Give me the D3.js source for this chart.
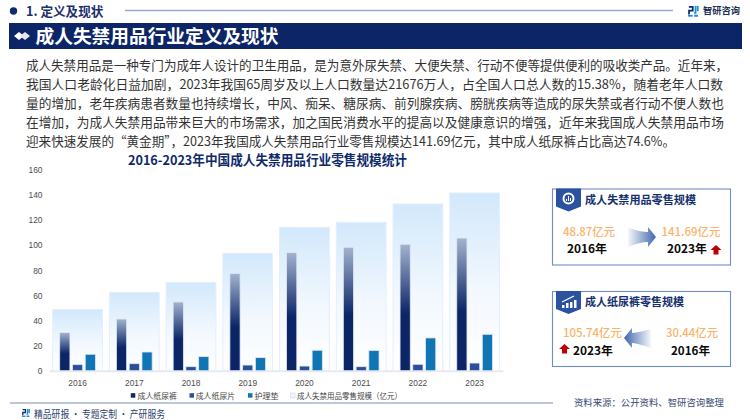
<!DOCTYPE html>
<html lang="zh">
<head>
<meta charset="utf-8">
<script src="https://cdn.jsdelivr.net/npm/d3@7"></script>
<style>
html,body{margin:0;padding:0;background:#fff;}
svg{display:block;font-family:"Noto Sans CJK SC","Noto Sans",sans-serif;}
.tick text{font-family:"Liberation Sans",Arial,sans-serif;font-size:8.4px;fill:#4d4d4d;}
</style>
</head>
<body>
<svg id="c" width="750" height="420" viewBox="0 0 750 420"></svg>
<script>
const years = ["2016","2017","2018","2019","2020","2021","2022","2023"];
const totalScale = [48.87,62.5,70.2,93.6,114.3,118.3,132.9,141.69];
const diapers = [30.44,41.2,54.8,77.6,94.1,98.4,100.8,105.74];
const pads = [4.8,5.6,3.2,4.5,3.7,3.2,5.1,6.1];
const nursing = [13.1,14.9,11.2,10.4,16.3,16.0,26.1,29.0];
const yTicks = [0,20,40,60,80,100,120,140,160];
const legendLabels = ["成人纸尿裤","成人纸尿片","护理垫","成人失禁用品零售规模（亿元）"];
const paragraph = [
 "成人失禁用品是一种专门为成年人设计的卫生用品，是为意外尿失禁、大便失禁、行动不便等提供便利的吸收类产品。近年来，",
 "我国人口老龄化日益加剧，2023年我国65周岁及以上人口数量达21676万人，占全国人口总人数的15.38%，随着老年人口数",
 "量的增加，老年疾病患者数量也持续增长，中风、痴呆、糖尿病、前列腺疾病、膀胱疾病等造成的尿失禁或者行动不便人数也",
 "在增加，为成人失禁用品带来巨大的市场需求，加之国民消费水平的提高以及健康意识的增强，近年来我国成人失禁用品市场",
 "迎来快速发展的“黄金期”，2023年我国成人失禁用品行业零售规模达141.69亿元，其中成人纸尿裤占比高达74.6%。"
];
const paragraphEnds = [728,723,724,724,675];

const svg = d3.select("#c");
const defs = svg.append("defs");
function grad(id, stops){
  const g = defs.append("linearGradient").attr("id",id).attr("x1",0).attr("y1",0).attr("x2",0).attr("y2",1);
  stops.forEach(s=>g.append("stop").attr("offset",s[0]).attr("stop-color",s[1]).attr("stop-opacity",s[2]===undefined?1:s[2]));
}
grad("gTotal",[[0,"#d2e8fb"],[0.55,"#f2f8fe"],[1,"#ffffff"]]);
grad("gDiaper",[[0,"#a3b3cf"],[0.55,"#0b2567"],[1,"#0b2567"]]);
const ga = defs.append("linearGradient").attr("id","gArrowR").attr("x1",0).attr("x2",1).attr("y1",0).attr("y2",0);
ga.append("stop").attr("offset",0).attr("stop-color","#3f66ad").attr("stop-opacity",0.05);
ga.append("stop").attr("offset",1).attr("stop-color","#3f66ad");
const gb = defs.append("linearGradient").attr("id","gArrowL").attr("x1",1).attr("x2",0).attr("y1",0).attr("y2",0);
gb.append("stop").attr("offset",0).attr("stop-color","#3f66ad").attr("stop-opacity",0.05);
gb.append("stop").attr("offset",1).attr("stop-color","#3f66ad");

function txt(x,y,s,size,fill,weight,anchor,len){
  const t = svg.append("text").attr("x",x).attr("y",y).text(s)
    .attr("font-size",size).attr("fill",fill).attr("font-weight",weight||400).attr("text-anchor",anchor||"start");
  if(len) t.attr("textLength",len).attr("lengthAdjust","spacingAndGlyphs");
  return t;
}
function logo(x,y,s){
  const g = svg.append("g").attr("transform",`translate(${x},${y}) scale(${s})`).attr("fill","none").attr("stroke-width",1.7);
  g.append("path").attr("d","M0.8 0.8H4.5V4.5H1V8").attr("stroke","#0f2a6e");
  g.append("path").attr("d","M0 9.3H4.5").attr("stroke","#1d8fd6");
  g.append("path").attr("d","M7.2 0V6.5H5.8M5.8 9.3H9.5M9.3 0V5").attr("stroke","#1d8fd6");
}

// header
svg.append("circle").attr("cx",13.5).attr("cy",11).attr("r",3.7).attr("fill","#12296b");
txt(26,16,"1. 定义及现状",12.6,"#1c2f6b",700);
svg.append("line").attr("x1",125).attr("x2",673).attr("y1",10.5).attr("y2",10.5).attr("stroke","#98a8cc").attr("stroke-width",1.3);
logo(688,6,1.05);
txt(703,14,"智研咨询",9.5,"#1f2f52",700,"start",37);

// banner
svg.append("rect").attr("x",9).attr("y",23).attr("width",733).attr("height",26).attr("fill","#0c2567");
svg.append("path").attr("d","M14 36l5-4 5 4-5 4z").attr("fill","#fff");
svg.append("path").attr("d","M20 36l5-4 5 4-5 4z").attr("fill","#e3e6ee");
txt(35.5,42.5,"成人失禁用品行业定义及现状",18.6,"#fff",700,"start",243);

// paragraph
paragraph.forEach((s,i)=>{
  txt(26,69.5+i*19,s,12.6,"#333",400,"start",paragraphEnds[i]-26);
});

// chart title
txt(128,164.5,"2016-2023年中国成人失禁用品行业零售规模统计",13.4,"#0e2a6b",700,"start",279);

// chart
const x = d3.scaleBand().domain(years).range([49.3,502.9]).paddingInner(0.123).paddingOuter(0.06);
const y = d3.scaleLinear().domain([0,160]).range([370.7,170]);
const inner = d3.scaleBand().domain(["a","b","c"]).range([0,x.bandwidth()]).paddingInner(0.2).paddingOuter(0.55);

const gx = svg.append("g").attr("transform","translate(0,370.7)").call(d3.axisBottom(x).tickSize(0).tickPadding(9));
gx.select(".domain").attr("stroke","#e9e9f1").attr("stroke-width",2);
const gy = svg.append("g").attr("transform","translate(42.5,0)").call(d3.axisLeft(y).tickValues(yTicks).tickSize(0).tickPadding(0));
gy.select(".domain").remove();

svg.append("g").selectAll("rect").data(years).join("rect")
  .attr("x",d=>x(d)).attr("width",x.bandwidth())
  .attr("y",(d,i)=>y(totalScale[i])).attr("height",(d,i)=>y(0)-y(totalScale[i]))
  .attr("fill","url(#gTotal)").attr("stroke","#e4eefc").attr("stroke-width",1);

function series(vals,key,fill){
  svg.append("g").selectAll("rect").data(years).join("rect")
    .attr("x",d=>x(d)+inner(key)).attr("width",inner.bandwidth())
    .attr("y",(d,i)=>y(vals[i])).attr("height",(d,i)=>y(0)-y(vals[i]))
    .attr("fill",fill).attr("stroke","#dfe6f3").attr("stroke-width",0.8);
}
series(diapers,"a","url(#gDiaper)");
series(pads,"b","#2b4f9b");
series(nursing,"c","#0f75b5");

// legend
const legendSwatchX = [130.8,189.5,248,290.5];
const legendTextX = [137.5,195.7,254.5,297];
const legendLen = [39.5,39.5,24,105];
const legendFill = ["#0b2567","#2b4f9b","#0f75b5","#eef5fe"];
legendLabels.forEach((s,i)=>{
  svg.append("rect").attr("x",legendSwatchX[i]).attr("y",393.2).attr("width",4.5).attr("height",4.5)
    .attr("fill",legendFill[i]).attr("stroke",i===3?"#d5e4fb":"none");
  txt(legendTextX[i],398.8,s,8,"#444",400,"start",legendLen[i]);
});

// footer
svg.append("line").attr("x1",10).attr("x2",553).attr("y1",403).attr("y2",403).attr("stroke","#7d8fb8").attr("stroke-width",1);
logo(22,409,0.78);
txt(34,418,"精品研报 · 专题定制 · 产研服务",10,"#2c3f70",400,"start",131);
txt(574,406,"资料来源：公开资料、智研咨询整理",9.4,"#3b4a72",400,"start",150);

// cards
function ribbon(x0,y0,h,icon){
  svg.append("path").attr("d",`M${x0} ${y0}H${x0+25}V${y0+h-5}L${x0+12.5} ${y0+h}L${x0} ${y0+h-5}Z`).attr("fill","#2a52a0");
  if(icon==="donut"){
    svg.append("circle").attr("cx",x0+12.5).attr("cy",y0+10).attr("r",5).attr("fill","none").attr("stroke","#fff").attr("stroke-width",2);
    svg.append("path").attr("d",`M${x0+10} ${y0+12.5}v-2h1v2zM${x0+12} ${y0+12.5}v-5h1v5zM${x0+14} ${y0+12.5}v-3h1v3z`).attr("fill","#fff");
  } else {
    svg.append("path").attr("d",`M${x0+6} ${y0+17}v-3h2.5v3zM${x0+10} ${y0+17}v-5h2.5v5zM${x0+14} ${y0+17}v-6h2.5v6zM${x0+18} ${y0+17}v-8h2.5v8z`).attr("fill","#fff");
    svg.append("path").attr("d",`M${x0+6} ${y0+11}L${x0+12} ${y0+8}L${x0+18} ${y0+5}`).attr("stroke","#fff").attr("stroke-width",1.3).attr("fill","none");
  }
}
function upArrow(cx,top){
  svg.append("path").attr("d",`M${cx} ${top}l5.5 5h-3v4.5h-5v-4.5h-3z`).attr("fill","#c00000");
}
const cardBorder = "#6f8cc4";
svg.append("rect").attr("x",552.5).attr("y",189).attr("width",178).attr("height",76).attr("fill","#fff").attr("stroke",cardBorder).attr("stroke-width",1.1);
ribbon(556,188.5,23,"donut");
txt(585,204,"成人失禁用品零售规模",11,"#14306e",700,"start",111);
txt(589,235.5,"48.87亿元",11.8,"#fbb36a",500,"middle",52);
txt(567,253.2,"2016年",11.8,"#0a0a0a",700,"start",40);
svg.append("path").attr("d","M628 227.5Q640 232 648 232V227L656 237L648 247V242Q640 242 628 247Z").attr("fill","url(#gArrowR)");
txt(691,235.5,"141.69亿元",11.8,"#fbb36a",500,"middle",59);
txt(667,253.2,"2023年",11.8,"#0a0a0a",700,"start",40);
upArrow(716,245);

svg.append("rect").attr("x",552.5).attr("y",291.5).attr("width",178).attr("height",75).attr("fill","#fff").attr("stroke",cardBorder).attr("stroke-width",1.1);
ribbon(556,291,23,"bars");
txt(585,305.5,"成人纸尿裤零售规模",11,"#14306e",700,"start",99);
txt(592.5,337,"105.74亿元",11.8,"#fbb36a",500,"middle",59);
txt(573,354.7,"2023年",11.8,"#0a0a0a",700,"start",40);
upArrow(564.5,344);
svg.append("path").attr("d","M651 329Q636 333 632 333V328L624 338L632 348V343Q636 343 651 348Z").attr("fill","url(#gArrowL)");
txt(692,337,"30.44亿元",11.8,"#fbb36a",500,"middle",52);
txt(671,354.7,"2016年",11.8,"#0a0a0a",700,"start",39);
</script>
</body>
</html>
